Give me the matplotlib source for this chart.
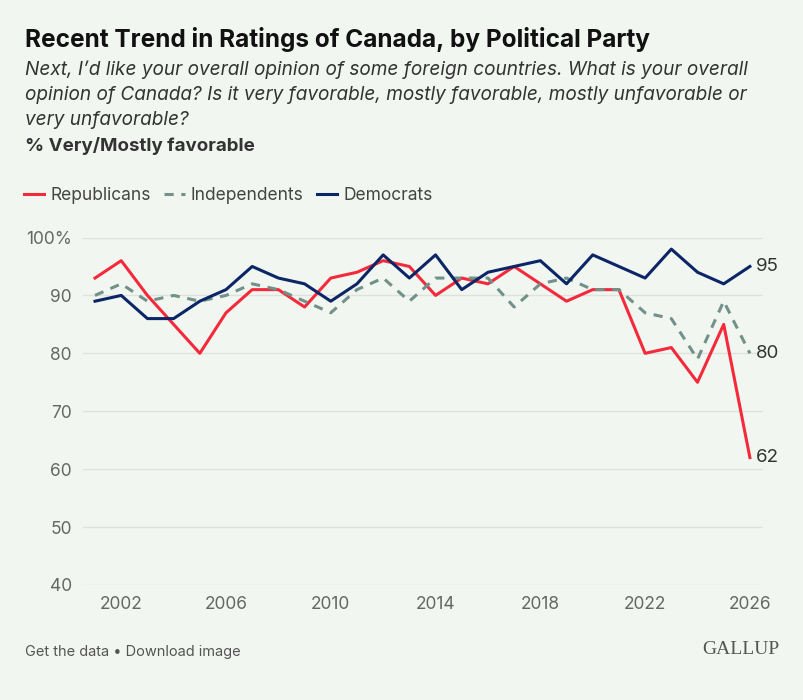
import matplotlib
matplotlib.use("Agg")
import matplotlib.pyplot as plt

years = list(range(2001, 2027))
republicans = [93, 96, 90, 85, 80, 87, 91, 91, 88, 93, 94, 96, 95,
               90, 93, 92, 95, 92, 89, 91, 91, 80, 81, 75, 85, 62]
independents = [90, 92, 89, 90, 89, 90, 92, 91, 89, 87, 91, 93, 89,
                93, 93, 93, 88, 92, 93, 91, 91, 87, 86, 79, 89, 80]
democrats = [89, 90, 86, 86, 89, 91, 95, 93, 92, 89, 92, 97, 93,
             97, 91, 94, 95, 96, 92, 97, 95, 93, 98, 94, 92, 95]
xticks = [2002, 2006, 2010, 2014, 2018, 2022, 2026]
yticks = [40, 50, 60, 70, 80, 90, 100]

bg = "#f1f7f0"
red = "#f42a3c"
navy = "#0b2566"
sage = "#71918a"

plt.rcParams['font.family'] = ['Inter', 'DejaVu Sans']

fig = plt.figure(figsize=(8.04, 7), dpi=100, facecolor=bg)
ax = fig.add_axes([0.1032, 0.1643, 0.8458, 0.4964], facecolor=bg)

ax.plot(years, republicans, color=red, lw=2.2, label="Republicans", clip_on=False)
ax.plot(years, independents, color=sage, lw=2.2, ls=(0, (3, 2.5)), label="Independents", clip_on=False)
ax.plot(years, democrats, color=navy, lw=2.2, label="Democrats", clip_on=False)

# end labels
for series in (democrats, independents, republicans):
    ax.annotate(str(series[-1]), (years[-1], series[-1]), xytext=(4, 0),
                textcoords="offset points", va="center", ha="left",
                fontsize=13.5, color="#333333", annotation_clip=False)

ax.set_xlim(2000.54, 2026.5)
ax.set_ylim(40, 100)
ax.set_xticks(xticks)
ax.set_yticks(yticks)
ax.set_yticklabels([f"{v}%" if v == 100 else str(v) for v in yticks])
ax.tick_params(length=0, labelsize=12.5, colors="#666666", pad=8)
ax.grid(axis="y", color="#dde3dc", lw=1)
ax.set_axisbelow(True)
for s in ax.spines.values():
    s.set_visible(False)

fig.text(25 / 804, 1 - 40 / 700, "Recent Trend in Ratings of Canada, by Political Party",
         fontsize=17.6, fontweight="bold", color="#111111", va="center")
subtitle = ["Next, I\u2019d like your overall opinion of some foreign countries. What is your overall",
            "opinion of Canada? Is it very favorable, mostly favorable, mostly unfavorable or",
            "very unfavorable?"]
for i, line in enumerate(subtitle):
    fig.text(25 / 804, 1 - (70 + 25 * i) / 700, line, fontsize=13.7, style="italic",
             color="#333333", va="center")
fig.text(25 / 804, 1 - 146 / 700, "% Very/Mostly favorable", fontsize=13.5,
         fontweight="bold", color="#333333", va="center")

leg = fig.legend(loc="center left", bbox_to_anchor=(8 / 804, 1 - 196 / 700), ncol=3,
                 frameon=False, fontsize=12.5, handlelength=1.2, handletextpad=0.35,
                 columnspacing=0.75)
for t in leg.get_texts():
    t.set_color("#444444")

fig.text(25 / 804, 1 - 652 / 700, "Get the data \u2022 Download image", fontsize=10.5,
         color="#555555", va="center")
fig.text(779 / 804, 1 - 650 / 700, "GALLUP", fontsize=14, family="Liberation Serif",
         color="#555555", va="center", ha="right")

fig.savefig("out.png", dpi=100, facecolor=bg)
